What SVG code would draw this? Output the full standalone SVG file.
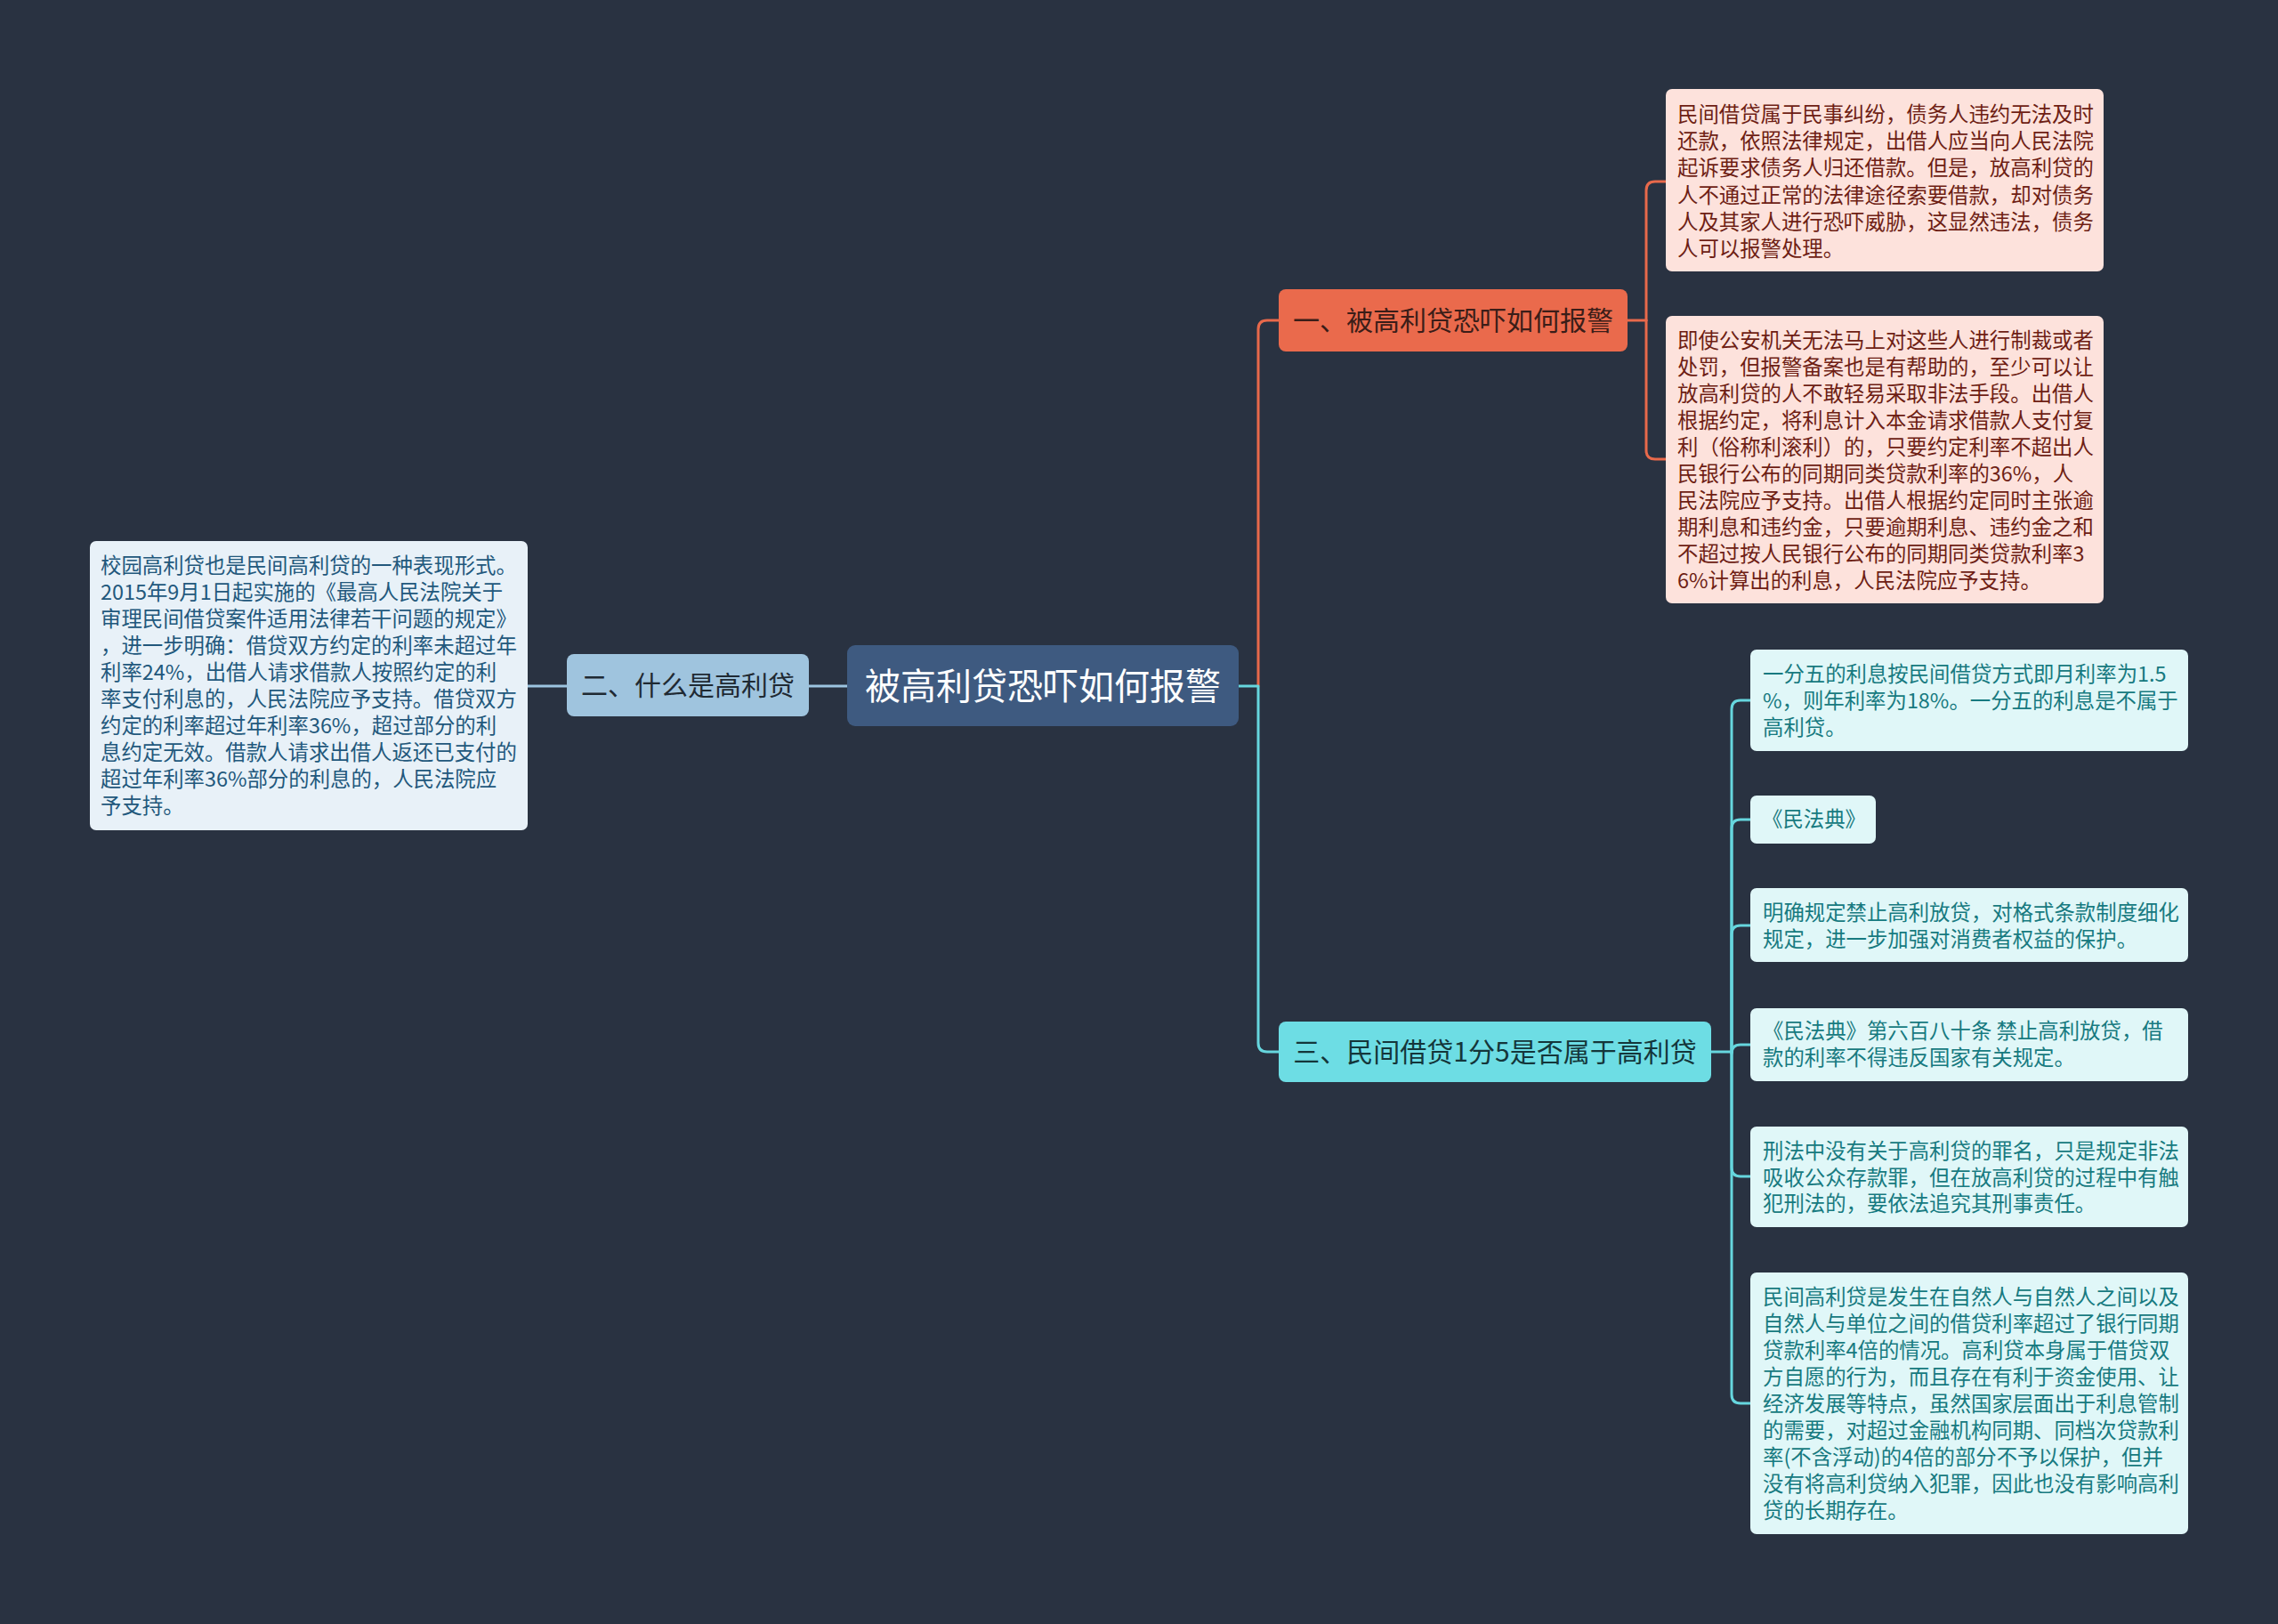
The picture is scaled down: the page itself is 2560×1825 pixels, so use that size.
<svg xmlns="http://www.w3.org/2000/svg" width="2560" height="1825" viewBox="0 0 2560 1825">
<style>
text{font-family:"Noto Sans CJK SC","Noto Sans",sans-serif;}
.t23{font-size:23.4px;}
.c{fill:none;stroke-width:3;stroke-linecap:round;stroke-linejoin:round;}
.or{stroke:#e8694b;}
.cy{stroke:#66d6de;}
.bl{stroke:#9cc4e0;}
.pink{fill:#fde2dc;}
.pinkt{fill:#6e1e14;}
.cyl{fill:#e0f7f8;}
.cylt{fill:#177a80;}
</style>
<rect x="0" y="0" width="2560" height="1825" fill="#293241"/>
<g id="connectors">
<path class="c bl" d="M952,771 H909"/>
<path class="c bl" d="M637,771 H593"/>
<path class="c or" d="M1414,771 V370 Q1414,360 1424,360 H1437"/>
<path class="c cy" d="M1392,771 H1414 V1172 Q1414,1182 1424,1182 H1437"/>
<path class="c or" d="M1829,360 H1850"/>
<path class="c or" d="M1850,360 V214 Q1850,204 1860,204 H1872"/>
<path class="c or" d="M1850,360 V506 Q1850,516 1860,516 H1872"/>
<path class="c cy" d="M1923,1182 H1946"/>
<path class="c cy" d="M1946,1182 V797 Q1946,787 1956,787 H1967"/>
<path class="c cy" d="M1946,1182 V931 Q1946,921 1956,921 H1967"/>
<path class="c cy" d="M1946,1182 V1050 Q1946,1040 1956,1040 H1967"/>
<path class="c cy" d="M1946,1182 V1184 Q1946,1174 1956,1174 H1967"/>
<path class="c cy" d="M1946,1182 V1312 Q1946,1322 1956,1322 H1967"/>
<path class="c cy" d="M1946,1182 V1567 Q1946,1577 1956,1577 H1967"/>
</g>
<g id="root">
<rect x="952" y="725" width="440" height="91" rx="9" fill="#3e5a80"/>
<text x="1172" y="786" font-size="41" fill="#ffffff" text-anchor="middle" textLength="400" lengthAdjust="spacingAndGlyphs">被高利贷恐吓如何报警</text>
</g>
<g id="n2">
<rect x="637" y="735" width="272" height="70" rx="8" fill="#9fc4de"/>
<text x="773" y="781" font-size="30" fill="#1f2a33" text-anchor="middle">二、什么是高利贷</text>
</g>
<g id="n2-leaf">
<rect x="101" y="608" width="492" height="325" rx="7" fill="#e8f1f8"/>
<text class="t23" fill="#22587c">
<tspan x="113" y="644">校园高利贷也是民间高利贷的一种表现形式。</tspan>
<tspan x="113" y="674">2015年9月1日起实施的《最高人民法院关于</tspan>
<tspan x="113" y="704">审理民间借贷案件适用法律若干问题的规定》</tspan>
<tspan x="113" y="734">，进一步明确：借贷双方约定的利率未超过年</tspan>
<tspan x="113" y="764">利率24%，出借人请求借款人按照约定的利</tspan>
<tspan x="113" y="794">率支付利息的，人民法院应予支持。借贷双方</tspan>
<tspan x="113" y="824">约定的利率超过年利率36%，超过部分的利</tspan>
<tspan x="113" y="854">息约定无效。借款人请求出借人返还已支付的</tspan>
<tspan x="113" y="884">超过年利率36%部分的利息的，人民法院应</tspan>
<tspan x="113" y="914">予支持。</tspan>
</text>
</g>
<g id="n1">
<rect x="1437" y="325" width="392" height="70" rx="8" fill="#ea6a4c"/>
<text x="1633" y="371" font-size="30" fill="#3b1d18" text-anchor="middle">一、被高利贷恐吓如何报警</text>
</g>
<g id="n1-leaf1">
<rect x="1872" y="100" width="492" height="205" rx="7" class="pink"/>
<text class="t23 pinkt">
<tspan x="1885" y="137">民间借贷属于民事纠纷，债务人违约无法及时</tspan>
<tspan x="1885" y="167">还款，依照法律规定，出借人应当向人民法院</tspan>
<tspan x="1885" y="197">起诉要求债务人归还借款。但是，放高利贷的</tspan>
<tspan x="1885" y="228">人不通过正常的法律途径索要借款，却对债务</tspan>
<tspan x="1885" y="258">人及其家人进行恐吓威胁，这显然违法，债务</tspan>
<tspan x="1885" y="288">人可以报警处理。</tspan>
</text>
</g>
<g id="n1-leaf2">
<rect x="1872" y="355" width="492" height="323" rx="7" class="pink"/>
<text class="t23 pinkt">
<tspan x="1885" y="391">即使公安机关无法马上对这些人进行制裁或者</tspan>
<tspan x="1885" y="421">处罚，但报警备案也是有帮助的，至少可以让</tspan>
<tspan x="1885" y="451">放高利贷的人不敢轻易采取非法手段。出借人</tspan>
<tspan x="1885" y="481">根据约定，将利息计入本金请求借款人支付复</tspan>
<tspan x="1885" y="511">利（俗称利滚利）的，只要约定利率不超出人</tspan>
<tspan x="1885" y="541">民银行公布的同期同类贷款利率的36%，人</tspan>
<tspan x="1885" y="571">民法院应予支持。出借人根据约定同时主张逾</tspan>
<tspan x="1885" y="601">期利息和违约金，只要逾期利息、违约金之和</tspan>
<tspan x="1885" y="631">不超过按人民银行公布的同期同类贷款利率3</tspan>
<tspan x="1885" y="661">6%计算出的利息，人民法院应予支持。</tspan>
</text>
</g>
<g id="n3">
<rect x="1437" y="1148" width="486" height="68" rx="8" fill="#6ddde4"/>
<text x="1680" y="1193" font-size="30" fill="#14363a" text-anchor="middle">三、民间借贷1分5是否属于高利贷</text>
</g>
<g id="n3-leaf1">
<rect x="1967" y="730" width="492" height="114" rx="7" class="cyl"/>
<text class="t23 cylt">
<tspan x="1981" y="766">一分五的利息按民间借贷方式即月利率为1.5</tspan>
<tspan x="1981" y="796">%，则年利率为18%。一分五的利息是不属于</tspan>
<tspan x="1981" y="826">高利贷。</tspan>
</text>
</g>
<g id="n3-leaf2">
<rect x="1967" y="894" width="141" height="54" rx="7" class="cyl"/>
<text class="t23 cylt"><tspan x="1980" y="929">《民法典》</tspan></text>
</g>
<g id="n3-leaf3">
<rect x="1967" y="998" width="492" height="83" rx="7" class="cyl"/>
<text class="t23 cylt">
<tspan x="1981" y="1034">明确规定禁止高利放贷，对格式条款制度细化</tspan>
<tspan x="1981" y="1064">规定，进一步加强对消费者权益的保护。</tspan>
</text>
</g>
<g id="n3-leaf4">
<rect x="1967" y="1133" width="492" height="82" rx="7" class="cyl"/>
<text class="t23 cylt">
<tspan x="1981" y="1167">《民法典》第六百八十条 禁止高利放贷，借</tspan>
<tspan x="1981" y="1197">款的利率不得违反国家有关规定。</tspan>
</text>
</g>
<g id="n3-leaf5">
<rect x="1967" y="1266" width="492" height="113" rx="7" class="cyl"/>
<text class="t23 cylt">
<tspan x="1981" y="1302">刑法中没有关于高利贷的罪名，只是规定非法</tspan>
<tspan x="1981" y="1332">吸收公众存款罪，但在放高利贷的过程中有触</tspan>
<tspan x="1981" y="1361">犯刑法的，要依法追究其刑事责任。</tspan>
</text>
</g>
<g id="n3-leaf6">
<rect x="1967" y="1430" width="492" height="294" rx="7" class="cyl"/>
<text class="t23 cylt">
<tspan x="1981" y="1466">民间高利贷是发生在自然人与自然人之间以及</tspan>
<tspan x="1981" y="1496">自然人与单位之间的借贷利率超过了银行同期</tspan>
<tspan x="1981" y="1526">贷款利率4倍的情况。高利贷本身属于借贷双</tspan>
<tspan x="1981" y="1556">方自愿的行为，而且存在有利于资金使用、让</tspan>
<tspan x="1981" y="1586">经济发展等特点，虽然国家层面出于利息管制</tspan>
<tspan x="1981" y="1616">的需要，对超过金融机构同期、同档次贷款利</tspan>
<tspan x="1981" y="1646">率(不含浮动)的4倍的部分不予以保护，但并</tspan>
<tspan x="1981" y="1676">没有将高利贷纳入犯罪，因此也没有影响高利</tspan>
<tspan x="1981" y="1706">贷的长期存在。</tspan>
</text>
</g>
</svg>
